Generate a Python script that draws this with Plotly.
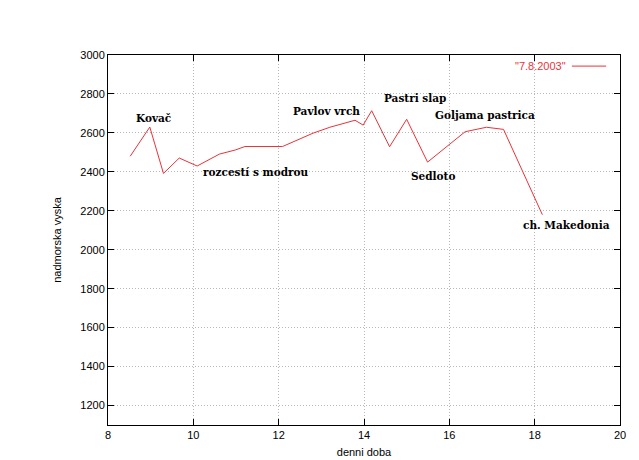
import plotly.graph_objects as go

time = [8.52, 8.98, 9.30, 9.67, 10.09, 10.61, 10.98, 11.21, 12.09, 12.81, 13.20,
        13.79, 13.98, 14.18, 14.60, 15.00, 15.49, 16.37, 16.87, 17.27, 18.18]
altitude = [2480, 2630, 2392, 2471, 2430, 2491, 2512, 2530, 2530, 2599, 2629,
            2665, 2640, 2714, 2529, 2670, 2450, 2606, 2629, 2618, 2180]

label_text = ["Kovač", "rozcestí s modrou", "Pavlov vrch", "Pastri slap",
              "Goljama pastrica", "Sedloto", "ch. Makedonia"]
label_x = [8.62, 10.17, 12.28, 14.42, 15.62, 15.06, 17.68]
label_y = [2676, 2399, 2712, 2779, 2692, 2379, 2127]

xticks = [8, 10, 12, 14, 16, 18, 20]
yticks = [1200, 1400, 1600, 1800, 2000, 2200, 2400, 2600, 2800, 3000]

series_name = '"7.8.2003"'
red = "#e8333a"

fig = go.Figure()
fig.add_trace(go.Scatter(x=time, y=altitude, mode="lines",
                         line=dict(color=red, width=1), name=series_name,
                         showlegend=False))

for t, x, y in zip(label_text, label_x, label_y):
    fig.add_annotation(x=x, y=y, text="<b>" + t + "</b>", showarrow=False,
                       xanchor="left", yanchor="middle",
                       font=dict(family="DejaVu Serif", size=10.5, color="black"))

# gnuplot-style key: text then line sample
fig.add_annotation(xref="paper", yref="paper", x=0.898, y=0.970,
                   text=series_name, showarrow=False, xanchor="right",
                   yanchor="middle",
                   font=dict(family="Liberation Sans", size=11, color=red))
fig.add_shape(type="line", xref="paper", yref="paper", x0=0.906, x1=0.973,
              y0=0.970, y1=0.970, line=dict(color=red, width=1))

axis_common = dict(showline=True, linecolor="black", linewidth=1, mirror="ticks",
                   ticks="inside", ticklen=6, tickcolor="black",
                   showgrid=True, gridcolor="#b8b8b8", griddash="1px,2px", gridwidth=1,
                   zeroline=False, automargin=False,
                   tickfont=dict(family="Liberation Sans", size=11, color="black"),
                   title_font=dict(family="Liberation Sans", size=11, color="black"))

fig.update_xaxes(range=[8, 20], tickvals=xticks, title_text="denni doba",
                 title_standoff=8, **axis_common)
fig.update_yaxes(range=[1100, 3000], tickvals=yticks, title_text="nadmorska vyska",
                 title_standoff=16, **axis_common)

fig.update_layout(
    width=631, height=452,
    margin=dict(l=100, r=19, t=47, b=35),
    plot_bgcolor="white", paper_bgcolor="white",
    showlegend=False,
)

fig.write_html("out.html")
